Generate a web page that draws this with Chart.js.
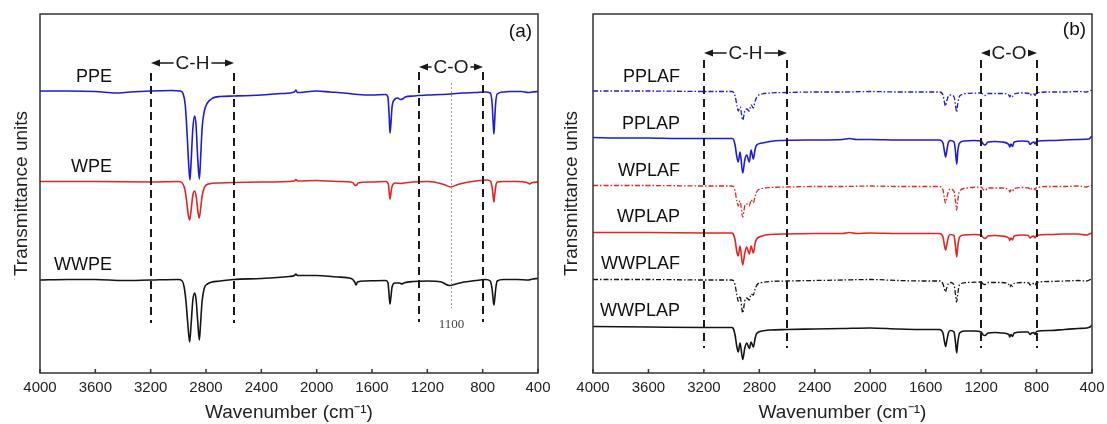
<!DOCTYPE html>
<html>
<head>
<meta charset="utf-8">
<script src="https://cdn.jsdelivr.net/npm/chart.js@4.4.0/dist/chart.umd.min.js"></script>
<style>
  body { margin: 0; background: #fff; }
  .panel { position: absolute; top: 0; }
  #ftirA { left: 0; }
  #ftirB { left: 550px; }
</style>
</head>
<body>
<canvas id="ftirA" class="panel" width="550" height="424"></canvas>
<canvas id="ftirB" class="panel" width="557" height="424"></canvas>
<script>
// wavenumber (cm-1) / transmittance (arbitrary, stacked) pairs
const PPE = [[4000,282],[3800,282],[3600,281.5],[3450,280],[3350,281],[3200,282],[3050,282.5],[2985,282],[2965,279],[2950,268],[2935,235],[2925,208],[2916,193],[2908,210],[2895,245],[2882,257],[2872,248],[2860,215],[2848,194],[2840,212],[2828,245],[2812,262],[2790,270],[2750,275],[2700,276.5],[2600,277],[2400,278],[2250,279.5],[2160,281],[2150,283],[2140,280.5],[2050,281.5],[2000,282],[1900,281],[1800,280],[1700,278.5],[1600,278],[1500,278.5],[1485,276],[1475,255],[1470,240],[1464,248],[1455,266],[1440,273],[1415,275],[1395,273.5],[1380,274],[1360,276],[1300,277],[1200,278],[1100,278.5],[1030,279],[950,280],[850,280.5],[780,281],[745,280],[732,270],[724,250],[719,239],[714,250],[706,270],[695,279],[650,281],[600,281.5],[520,281.5],[470,280.5],[440,281],[400,281.5]];
const WPE = [[4000,191.5],[3600,191.5],[3200,191],[3000,191.5],[2975,190.5],[2955,185],[2940,172],[2928,158],[2918,153],[2908,162],[2895,178],[2882,182],[2870,176],[2858,161],[2849,155],[2840,163],[2828,177],[2810,186],[2780,189],[2700,190],[2600,190.5],[2400,191],[2160,192],[2150,193.5],[2140,192],[2000,192.5],[1850,191.5],[1740,190.5],[1725,188],[1715,187.5],[1700,190],[1600,191],[1500,191.5],[1482,189],[1474,178],[1469,174],[1463,180],[1452,188],[1430,190],[1390,189.5],[1370,190],[1300,191],[1200,191.5],[1150,191],[1080,188.5],[1030,186],[980,188.5],[900,191],[820,192.5],[770,193],[742,191.5],[730,184],[722,174],[718,171],[713,178],[705,187],[695,191],[650,191.5],[550,191.5],[480,190.5],[460,189],[440,190.5],[400,191]];
const WWPE = [[4000,93],[3800,93.5],[3600,93.5],[3400,92.5],[3200,93],[3000,93.5],[2975,92.5],[2958,86],[2945,72],[2932,50],[2918,31],[2908,48],[2895,73],[2882,80],[2872,74],[2860,52],[2848,33],[2840,48],[2828,72],[2812,85],[2790,89],[2700,92],[2600,93.5],[2400,94.5],[2200,96.5],[2160,97.5],[2150,99],[2140,97.5],[2000,97.5],[1850,96],[1750,94.5],[1725,91],[1715,88],[1705,91],[1650,92],[1500,92.5],[1484,90],[1476,77],[1470,69],[1464,75],[1455,86],[1435,90],[1400,90],[1385,89],[1370,90],[1300,91.5],[1200,92],[1100,91],[1040,87.5],[1020,88],[950,90.5],[850,92.5],[780,93.5],[745,92],[732,84],[723,72],[718,68],[713,74],[705,85],[695,92],[650,93.5],[550,93.5],[470,93],[440,94],[400,94.5]];

const PPLAF = [[4000,282],[3600,282],[3200,281.5],[3000,281.5],[2988,281],[2975,277],[2962,268],[2952,262],[2939,266],[2920,253],[2905,262],[2891,264],[2872,262],[2860,268],[2843,265],[2830,272],[2815,276.5],[2780,279],[2720,280],[2600,280.5],[2400,281],[2200,281],[2000,281.5],[1800,281],[1600,281],[1500,281],[1475,278],[1465,271],[1458,267],[1448,272],[1435,277],[1420,278],[1395,276],[1385,268],[1377,261],[1368,270],[1355,277],[1300,279.5],[1200,280],[1185,278.5],[1172,277.5],[1150,279.5],[1050,279.5],[1000,278],[993,276],[985,278],[974,276.5],[962,279],[900,280],[855,279.5],[847,277.5],[835,279],[818,279],[811,277.5],[800,280],[700,281],[600,281],[500,281.5],[440,281],[420,282],[400,283]];
const PPLAP = [[4000,235.5],[3800,235],[3600,235],[3400,234.5],[3200,234.5],[3000,234.5],[2988,234],[2975,228],[2962,216],[2952,211],[2939,221],[2920,200],[2905,213],[2891,218],[2872,211],[2860,223],[2843,214],[2830,224],[2819,228],[2780,230],[2723,231.5],[2650,232.5],[2400,233],[2200,233.5],[2150,234.5],[2100,233.5],[2000,233.5],[1800,233],[1600,233],[1500,233],[1475,230],[1465,222],[1456,216],[1448,222],[1435,231],[1420,232.5],[1395,231],[1385,222],[1376,209],[1368,222],[1355,230],[1320,232],[1250,232.5],[1200,232],[1185,229],[1172,228],[1150,231],[1100,231.5],[1050,231],[1000,228.5],[993,226],[985,229],[974,226.5],[962,231],[900,232],[860,231.5],[847,228.5],[835,230],[820,231],[811,229],[800,231.5],[700,232.5],[600,233],[500,233.5],[420,234],[408,236],[400,237]];
const WPLAF = [[4000,187.5],[3600,187.5],[3200,187],[3000,187],[2988,186.5],[2975,182],[2962,172],[2952,167],[2939,172],[2920,156],[2905,167],[2891,169],[2872,167],[2860,173],[2843,170],[2830,177],[2815,182],[2780,184.5],[2720,185.5],[2600,186],[2400,186.5],[2200,186.5],[2000,187],[1800,186.5],[1600,186.5],[1500,186.5],[1475,183],[1465,175],[1458,170],[1448,175],[1435,182],[1420,184],[1395,181.5],[1385,172],[1377,163],[1368,173],[1355,182],[1300,185],[1200,186],[1185,183.5],[1172,182.5],[1150,185],[1050,185],[1000,183],[993,181],[985,183],[974,181.5],[962,184.5],[900,185.5],[855,185],[847,183],[835,184.5],[818,184.5],[811,183],[800,185.5],[700,186.5],[600,186.5],[500,187],[440,186],[420,187],[400,188]];
const WPLAP = [[4000,140.5],[3600,140.5],[3200,140],[3000,140],[2988,139],[2975,133],[2962,121],[2952,117],[2939,127],[2920,108],[2905,120],[2891,126],[2872,119],[2860,127],[2843,120],[2830,130],[2819,134],[2780,137],[2723,138.5],[2600,139],[2400,139.5],[2200,139.5],[2150,140.5],[2100,139.5],[2000,140],[1800,139.5],[1600,139.5],[1500,139.5],[1475,136],[1465,128],[1456,123],[1448,128],[1435,136.5],[1420,138.5],[1395,137],[1385,127],[1376,116],[1368,127],[1355,136],[1320,138],[1250,138.5],[1200,138],[1185,135.5],[1172,134.5],[1150,137],[1100,137.5],[1050,137],[1000,135],[993,132.5],[985,135],[974,133],[962,137],[900,138],[860,137.5],[847,135],[835,136.5],[820,137],[811,135],[800,137.5],[700,138.5],[600,139],[500,139],[440,138],[420,139],[400,140]];
const WWPLAF = [[4000,93.5],[3600,93.5],[3200,93],[3000,93],[2988,92.5],[2975,88],[2962,78],[2952,72],[2939,77],[2920,60],[2905,72],[2891,75],[2872,73],[2860,79],[2843,78],[2830,84],[2815,88.5],[2780,90.5],[2720,91.5],[2600,92],[2400,92.5],[2200,93],[2000,93.5],[1800,92.5],[1600,92],[1500,92],[1475,89],[1465,84],[1458,81],[1448,85],[1435,89.5],[1420,90.5],[1395,88],[1385,79],[1377,71],[1368,80],[1355,88.5],[1300,90.5],[1200,91],[1185,89],[1172,88.5],[1150,90.5],[1050,90.5],[1000,88.5],[993,86],[985,88],[974,86.5],[962,89.5],[900,90.5],[855,90],[847,88],[835,89.5],[818,89.5],[811,88],[800,90.5],[700,91.5],[600,92],[500,92.5],[440,92],[420,93],[400,94]];
const WWPLAP = [[4000,46.5],[3600,46],[3200,45.5],[3000,45.5],[2988,44.5],[2975,38],[2962,26],[2952,21],[2939,30],[2920,13.5],[2905,25],[2891,30],[2872,24.5],[2860,31],[2843,26],[2830,35],[2819,39.5],[2780,42],[2723,43],[2600,43.5],[2400,44],[2200,44.5],[2000,45],[1800,44],[1600,43.5],[1500,43.5],[1475,40],[1465,32],[1456,26.5],[1448,32],[1435,40.5],[1420,42.5],[1395,41],[1385,31],[1376,20],[1368,31],[1355,40],[1320,42],[1250,42],[1200,41],[1185,38],[1172,37.5],[1150,40],[1100,40.5],[1050,40],[1000,38.5],[993,36],[985,38.5],[974,36.5],[962,40],[900,41],[860,41],[847,38.5],[835,40],[820,40.5],[811,38.5],[800,41.5],[700,42.5],[600,43.5],[500,44.5],[440,45],[415,46],[400,48]];

const xTicks = [4000, 3600, 3200, 2800, 2400, 2000, 1600, 1200, 800, 400];

const BLUE = 'rgb(28,28,215)';
const RED = 'rgb(228,36,36)';
const BLACK = '#141414';
const FONT = '"Liberation Sans", Arial, sans-serif';

function line(label, pts, color, dashed) {
    return {
        label: label,
        data: pts.map(p => ({ x: p[0], y: p[1] })),
        borderColor: color,
        borderWidth: dashed ? 1.3 : 1.6,
        borderDash: dashed ? [5, 2, 1.5, 2] : [],
        pointRadius: 0,
        cubicInterpolationMode: 'monotone',
        fill: false
    };
}

// frame, inward ticks, dashed band markers, arrows and sample names
const decor = {
    id: 'decor',
    afterDatasetsDraw(chart, args, o) {
        const ctx = chart.ctx;
        const a = chart.chartArea;
        const xs = chart.scales.x, ys = chart.scales.y;
        ctx.save();

        ctx.strokeStyle = '#333';
        ctx.lineWidth = 1.5;
        ctx.strokeRect(a.left, a.top, a.right - a.left, a.bottom - a.top);
        ctx.beginPath();
        xTicks.forEach(t => {
            const px = xs.getPixelForValue(t);
            ctx.moveTo(px, a.bottom);
            ctx.lineTo(px, a.bottom - 4);
        });
        ctx.stroke();

        if (o.dotted) {
            ctx.strokeStyle = '#999';
            ctx.lineWidth = 1;
            ctx.setLineDash([2, 2]);
            const px = Math.round(xs.getPixelForValue(o.dotted.x)) + 0.5;
            ctx.beginPath();
            ctx.moveTo(px, ys.getPixelForValue(o.dotted.y1));
            ctx.lineTo(px, ys.getPixelForValue(o.dotted.y2));
            ctx.stroke();
            ctx.setLineDash([]);
            ctx.fillStyle = '#444';
            ctx.font = '13px "Liberation Serif", serif';
            ctx.textAlign = 'center';
            ctx.textBaseline = 'middle';
            ctx.fillText(o.dotted.text, px, ys.getPixelForValue(o.dotted.ty));
        }

        ctx.strokeStyle = '#1a1a1a';
        ctx.lineWidth = 2;
        ctx.setLineDash([8, 5]);
        o.dashed.forEach(d => {
            const px = Math.round(xs.getPixelForValue(d.x));
            ctx.beginPath();
            ctx.moveTo(px, ys.getPixelForValue(d.y1));
            ctx.lineTo(px, ys.getPixelForValue(d.y2));
            ctx.stroke();
        });
        ctx.setLineDash([]);

        ctx.font = '19px ' + FONT;
        ctx.textBaseline = 'middle';
        ctx.textAlign = 'center';
        ctx.lineWidth = 1.3;
        o.arrows.forEach(ar => {
            const x1 = Math.round(xs.getPixelForValue(ar.x1));
            const x2 = Math.round(xs.getPixelForValue(ar.x2));
            const py = ys.getPixelForValue(ar.y);
            const mid = (x1 + x2) / 2;
            const w = ctx.measureText(ar.text).width;
            ctx.fillStyle = '#1a1a1a';
            ctx.fillText(ar.text, mid, py + 1);
            ctx.beginPath();
            ctx.moveTo(x1 + 6, py);
            ctx.lineTo(mid - w / 2 - 2, py);
            ctx.moveTo(mid + w / 2 + 2, py);
            ctx.lineTo(x2 - 6, py);
            ctx.stroke();
            ctx.beginPath();
            ctx.moveTo(x1, py); ctx.lineTo(x1 + 9, py - 3.5); ctx.lineTo(x1 + 9, py + 3.5); ctx.closePath();
            ctx.moveTo(x2, py); ctx.lineTo(x2 - 9, py - 3.5); ctx.lineTo(x2 - 9, py + 3.5); ctx.closePath();
            ctx.fill();
        });

        ctx.fillStyle = '#111';
        ctx.font = '18px ' + FONT;
        ctx.textAlign = 'right';
        o.labels.forEach(l => {
            ctx.fillText(l.text, xs.getPixelForValue(l.x), ys.getPixelForValue(l.y));
        });
        ctx.font = '19px ' + FONT;
        ctx.fillText(o.tag.text, xs.getPixelForValue(o.tag.x), ys.getPixelForValue(o.tag.y));
        ctx.restore();
    }
};

function makeChart(id, datasets, yWidth, rightPad, decorOpts) {
    return new Chart(document.getElementById(id), {
        type: 'line',
        data: { datasets: datasets },
        options: {
            responsive: false,
            animation: false,
            devicePixelRatio: 1,
            events: [],
            layout: { padding: { top: 14, right: rightPad, left: 0, bottom: 0 } },
            plugins: { legend: { display: false }, tooltip: { enabled: false }, decor: decorOpts },
            scales: {
                x: {
                    type: 'linear', reverse: true, min: 400, max: 4000,
                    afterBuildTicks: s => { s.ticks = xTicks.map(v => ({ value: v })); },
                    ticks: { color: '#222', font: { family: FONT, size: 15 }, padding: 6,
                             maxRotation: 0, autoSkip: false, callback: v => String(v) },
                    grid: { display: false, drawTicks: false },
                    border: { display: false },
                    title: { display: true, text: 'Wavenumber (cm⁻¹)', color: '#222',
                             font: { family: FONT, size: 19, lineHeight: 1.2 }, padding: { top: 0, bottom: 0 } },
                    afterFit: s => { s.height = 51; s.paddingLeft = 0; s.paddingRight = 0; }
                },
                y: {
                    min: 0, max: 359,
                    ticks: { display: false },
                    grid: { display: false, drawTicks: false },
                    border: { display: false },
                    title: { display: true, text: 'Transmittance units', color: '#222',
                             font: { family: FONT, size: 19, lineHeight: 1.2 }, padding: { top: 10.5, bottom: 0 } },
                    afterFit: s => { s.width = yWidth; s.paddingTop = 0; s.paddingBottom = 0; }
                }
            }
        },
        plugins: [decor]
    });
}

makeChart('ftirA', [
    line('PPE', PPE, BLUE, false),
    line('WPE', WPE, RED, false),
    line('WWPE', WWPE, BLACK, false)
], 40, 12, {
    dashed: [{ x: 3200, y1: 300, y2: 50 }, { x: 2600, y1: 300, y2: 50 },
             { x: 1260, y1: 301, y2: 51 }, { x: 795, y1: 301, y2: 51 }],
    dotted: { x: 1030, y1: 290, y2: 65, text: '1100', ty: 48 },
    arrows: [{ x1: 3200, x2: 2600, y: 310, text: 'C-H' }, { x1: 1260, x2: 795, y: 306, text: 'C-O' }],
    labels: [{ x: 3480, y: 296, text: 'PPE' }, { x: 3480, y: 206, text: 'WPE' }, { x: 3480, y: 108, text: 'WWPE' }],
    tag: { x: 443, y: 341, text: '(a)' }
});

makeChart('ftirB', [
    line('PPLAF', PPLAF, BLUE, true),
    line('PPLAP', PPLAP, BLUE, false),
    line('WPLAF', WPLAF, RED, true),
    line('WPLAP', WPLAP, RED, false),
    line('WWPLAF', WWPLAF, BLACK, true),
    line('WWPLAP', WWPLAP, BLACK, false)
], 43, 15, {
    dashed: [{ x: 3200, y1: 313, y2: 25 }, { x: 2600, y1: 313, y2: 25 },
             { x: 1200, y1: 313, y2: 25 }, { x: 800, y1: 313, y2: 25 }],
    arrows: [{ x1: 3200, x2: 2600, y: 320, text: 'C-H' }, { x1: 1200, x2: 800, y: 320, text: 'C-O' }],
    labels: [{ x: 3372, y: 296, text: 'PPLAF' }, { x: 3372, y: 249, text: 'PPLAP' },
             { x: 3372, y: 202, text: 'WPLAF' }, { x: 3372, y: 156, text: 'WPLAP' },
             { x: 3372, y: 109, text: 'WWPLAF' }, { x: 3372, y: 62, text: 'WWPLAP' }],
    tag: { x: 443, y: 343, text: '(b)' }
});
</script>
</body>
</html>
